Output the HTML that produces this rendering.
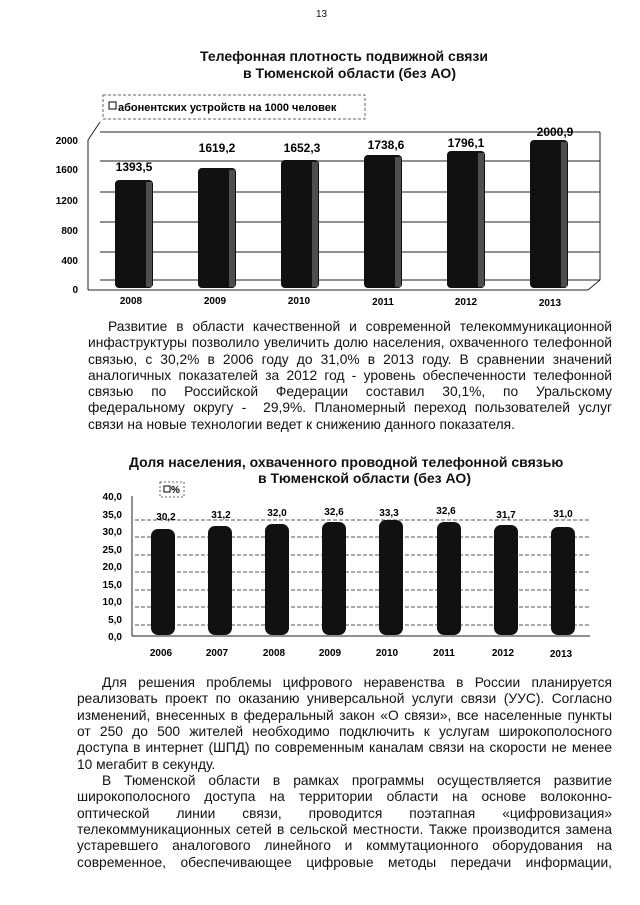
<!DOCTYPE html>
<html><head><meta charset="utf-8"><style>
body{margin:0;background:#fff;}
#p{position:relative;width:640px;height:905px;overflow:hidden;background:#fff;font-family:"Liberation Sans",sans-serif;color:#111;}
.l{position:absolute;font-size:13.8px;line-height:16px;text-align:justify;text-align-last:justify;white-space:nowrap;}
.n{text-align-last:left;}
.t{position:absolute;font-weight:bold;font-size:14px;white-space:nowrap;}
.s{position:absolute;font-weight:bold;font-size:10.5px;white-space:nowrap;}
</style></head><body><div id="p">
<div class="s" style="left:316px;top:9px;font-weight:normal;font-size:10px">13</div>
<div class="t" style="left:200px;top:48px">Телефонная плотность подвижной связи</div>
<div class="t" style="left:243px;top:65px">в Тюменской области (без АО)</div>

<svg style="position:absolute;left:0;top:0" width="640" height="320">
<rect x="103" y="95" width="262" height="24" fill="#fff" stroke="#666" stroke-dasharray="3,2"/>
<rect x="109" y="102" width="7" height="7" fill="none" stroke="#000"/>
<text x="118" y="111" font-family="Liberation Sans" font-weight="bold" font-size="11">абонентских устройств на 1000 человек</text>
<g stroke="#222" stroke-width="1">
<line x1="100" y1="132" x2="600" y2="132"/><line x1="100" y1="161" x2="600" y2="161"/>
<line x1="100" y1="192" x2="600" y2="192"/><line x1="100" y1="222" x2="600" y2="222"/>
<line x1="100" y1="252" x2="600" y2="252"/><line x1="100" y1="280" x2="600" y2="280"/>
<line x1="88" y1="140" x2="88" y2="290"/><line x1="88" y1="290" x2="588" y2="290"/>
<line x1="588" y1="290" x2="600" y2="280"/><line x1="600" y1="132" x2="600" y2="280"/>
<line x1="88" y1="140" x2="100" y2="122"/>
</g>
<g font-family="Liberation Sans" font-weight="bold" font-size="10" text-anchor="end">
<text x="78" y="144">2000</text><text x="78" y="173">1600</text><text x="78" y="204">1200</text>
<text x="78" y="234">800</text><text x="78" y="264">400</text><text x="78" y="293">0</text></g>
<g fill="#111">
<rect x="115" y="180" width="38" height="108" rx="4"/><rect x="198" y="168" width="38" height="120" rx="4"/>
<rect x="281" y="160" width="38" height="128" rx="4"/><rect x="364" y="155" width="38" height="133" rx="4"/>
<rect x="447" y="151" width="38" height="137" rx="4"/><rect x="530" y="140" width="38" height="148" rx="4"/></g>
<g fill="#777" opacity=".6">
<rect x="146" y="182" width="6" height="105"/><rect x="229" y="170" width="6" height="117"/>
<rect x="312" y="162" width="6" height="125"/><rect x="395" y="157" width="6" height="130"/>
<rect x="478" y="153" width="6" height="134"/><rect x="561" y="142" width="6" height="145"/></g>
<g font-family="Liberation Sans" font-weight="bold" font-size="12" text-anchor="middle">
<text x="134" y="171">1393,5</text><text x="217" y="152">1619,2</text><text x="302" y="152">1652,3</text>
<text x="386" y="149">1738,6</text><text x="466" y="147">1796,1</text><text x="555" y="136">2000,9</text></g>
<g font-family="Liberation Sans" font-weight="bold" font-size="10" text-anchor="middle">
<text x="131" y="304">2008</text><text x="215" y="304">2009</text><text x="299" y="304">2010</text>
<text x="383" y="305">2011</text><text x="466" y="305">2012</text><text x="550" y="306">2013</text></g>
</svg>

<div class="l" style="left:108px;top:319px;width:504px">Развитие в области качественной и современной телекоммуникационной</div>
<div class="l" style="left:88px;top:335px;width:524px">инфаструктуры позволило увеличить долю населения, охваченного телефонной</div>
<div class="l" style="left:88px;top:352px;width:524px">связью, с 30,2% в 2006 году до 31,0% в 2013 году. В сравнении значений</div>
<div class="l" style="left:88px;top:368px;width:524px">аналогичных показателей за 2012 год - уровень обеспеченности телефонной</div>
<div class="l" style="left:88px;top:384px;width:524px">связью по Российской Федерации составил 30,1%, по Уральскому</div>
<div class="l" style="left:88px;top:400px;width:524px">федеральному округу - &nbsp;29,9%. Планомерный переход пользователей услуг</div>
<div class="l n" style="left:88px;top:417px;width:524px">связи на новые технологии ведет к снижению данного показателя.</div>

<div class="t" style="left:129px;top:454px">Доля населения, охваченного проводной телефонной связью</div>
<div class="t" style="left:258px;top:470px">в Тюменской области (без АО)</div>

<svg style="position:absolute;left:0;top:480px" width="640" height="190">
<rect x="160" y="2" width="24" height="15" fill="#fff" stroke="#666" stroke-dasharray="2,2"/>
<rect x="164" y="6" width="6" height="6" fill="none" stroke="#000"/>
<text x="171" y="13" font-family="Liberation Sans" font-weight="bold" font-size="10">%</text>
<g stroke="#555" stroke-dasharray="4,2">
<line x1="135" y1="40" x2="590" y2="40"/><line x1="135" y1="57" x2="590" y2="57"/>
<line x1="135" y1="75" x2="590" y2="75"/><line x1="135" y1="92" x2="590" y2="92"/>
<line x1="135" y1="110" x2="590" y2="110"/><line x1="135" y1="127" x2="590" y2="127"/>
<line x1="135" y1="145" x2="590" y2="145"/></g>
<g stroke="#222"><line x1="132" y1="16" x2="132" y2="156"/><line x1="132" y1="156" x2="590" y2="156"/></g>
<g font-family="Liberation Sans" font-weight="bold" font-size="10" text-anchor="end">
<text x="122" y="20">40,0</text><text x="122" y="38">35,0</text><text x="122" y="55">30,0</text>
<text x="122" y="73">25,0</text><text x="122" y="90">20,0</text><text x="122" y="108">15,0</text>
<text x="122" y="125">10,0</text><text x="122" y="143">5,0</text><text x="122" y="160">0,0</text></g>
<g fill="#111">
<rect x="151" y="49" width="24" height="106" rx="7"/><rect x="208" y="46" width="24" height="109" rx="7"/>
<rect x="265" y="44" width="24" height="111" rx="7"/><rect x="322" y="42" width="24" height="113" rx="7"/>
<rect x="379" y="40" width="24" height="115" rx="7"/><rect x="437" y="42" width="24" height="113" rx="7"/>
<rect x="494" y="45" width="24" height="110" rx="7"/><rect x="551" y="47" width="24" height="108" rx="7"/></g>
<g font-family="Liberation Sans" font-weight="bold" font-size="10" text-anchor="middle">
<text x="166" y="40">30,2</text><text x="221" y="38">31,2</text><text x="277" y="36">32,0</text>
<text x="334" y="35">32,6</text><text x="389" y="36">33,3</text><text x="446" y="34">32,6</text>
<text x="506" y="38">31,7</text><text x="563" y="37">31,0</text></g>
<g font-family="Liberation Sans" font-weight="bold" font-size="10" text-anchor="middle">
<text x="161" y="176">2006</text><text x="217" y="176">2007</text><text x="274" y="176">2008</text>
<text x="330" y="176">2009</text><text x="387" y="176">2010</text><text x="444" y="176">2011</text>
<text x="503" y="176">2012</text><text x="561" y="177">2013</text></g>
</svg>

<div class="l" style="left:102px;top:675px;width:510px">Для решения проблемы цифрового неравенства в России планируется</div>
<div class="l" style="left:77px;top:691px;width:535px">реализовать проект по оказанию универсальной услуги связи (УУС). Согласно</div>
<div class="l" style="left:77px;top:708px;width:535px">изменений, внесенных в федеральный закон «О связи», все населенные пункты</div>
<div class="l" style="left:77px;top:724px;width:535px">от 250 до 500 жителей необходимо подключить к услугам широкополосного</div>
<div class="l" style="left:77px;top:740px;width:535px">доступа в интернет (ШПД) по современным каналам связи на скорости не менее</div>
<div class="l n" style="left:77px;top:757px;width:535px">10 мегабит в секунду.</div>
<div class="l" style="left:102px;top:773px;width:510px">В Тюменской области в рамках программы осуществляется развитие</div>
<div class="l" style="left:77px;top:789px;width:535px">широкополосного доступа на территории области на основе волоконно-</div>
<div class="l" style="left:77px;top:806px;width:535px">оптической линии связи, проводится поэтапная «цифровизация»</div>
<div class="l" style="left:77px;top:822px;width:535px">телекоммуникационных сетей в сельской местности. Также производится замена</div>
<div class="l" style="left:77px;top:838px;width:535px">устаревшего аналогового линейного и коммутационного оборудования на</div>
<div class="l" style="left:77px;top:855px;width:535px">современное, обеспечивающее цифровые методы передачи информации,</div>
</div></body></html>
